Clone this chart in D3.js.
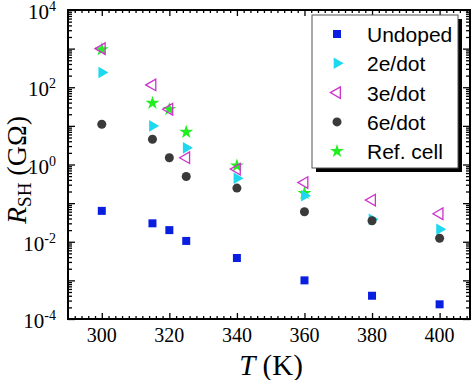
<!DOCTYPE html>
<html>
<head>
<meta charset="utf-8">
<script src="https://cdn.jsdelivr.net/npm/d3@7"></script>
<style>
  body { margin: 0; background: #fff; }
  svg { display: block; }
</style>
</head>
<body>
<div id="chart"></div>
<script>
// Data (temperature in K, R_SH in GOhm)
const undopedT = [300, 315, 320, 325, 340, 360, 380, 400]
const undopedR = [0.063, 0.030, 0.020, 0.0105, 0.0038, 0.0010, 0.0004, 0.00024]

const e2T = [300, 315, 325, 340, 360, 380, 400]
const e2R = [240, 10, 2.7, 0.44, 0.155, 0.038, 0.021]

const e3T = [300, 315, 320, 325, 340, 360, 380, 400]
const e3R = [1000, 115, 27, 1.5, 0.76, 0.34, 0.12, 0.053]

const e6T = [300, 315, 320, 325, 340, 360, 380, 400]
const e6R = [11, 4.5, 1.5, 0.49, 0.245, 0.06, 0.035, 0.0123]

const refT = [300, 315, 320, 325, 340, 360]
const refR = [950, 39, 27, 6.9, 0.93, 0.18]

const xTicks = [300, 320, 340, 360, 380, 400]
const yTickExp = [-4, -2, 0, 2, 4]

let dimensions = {
  width: 474,
  height: 380,
  left: 68,
  right: 470,
  top: 10,
  bottom: 319
}

const svg = d3.select('#chart')
  .append('svg')
  .attr('width', dimensions.width)
  .attr('height', dimensions.height)

const serif = '"Liberation Serif", "Times New Roman", serif'
const sans = '"Liberation Sans", Arial, sans-serif'

// Scales
const xScale = d3.scaleLinear()
  .domain([290, 409])
  .range([dimensions.left, dimensions.right])

const yScale = d3.scaleLog()
  .domain([1e-4, 1e4])
  .range([dimensions.bottom, dimensions.top])

// tick values
const xMinor = d3.range(292, 409, 2).filter(v => v % 20 !== 0)
const yMajor = d3.range(-4, 5).map(e => Math.pow(10, e))
const yMinor = []
for (let e = -4; e < 4; e++) {
  for (let m = 2; m < 10; m++) yMinor.push(m * Math.pow(10, e))
}

function tickAxis(axisFn, scale, values, size, transform) {
  const g = svg.append('g')
    .attr('transform', transform)
    .call(axisFn(scale).tickValues(values).tickSize(size).tickFormat(''))
  g.select('.domain').remove()
  g.selectAll('line').attr('stroke', '#000').attr('stroke-width', 1.3)
}

// inward ticks on all four sides
tickAxis(d3.axisBottom, xScale, xTicks, -6, `translate(0,${dimensions.bottom})`)
tickAxis(d3.axisBottom, xScale, xMinor, -3, `translate(0,${dimensions.bottom})`)
tickAxis(d3.axisTop, xScale, xTicks, -6, `translate(0,${dimensions.top})`)
tickAxis(d3.axisTop, xScale, xMinor, -3, `translate(0,${dimensions.top})`)
tickAxis(d3.axisLeft, yScale, yMajor, -7, `translate(${dimensions.left},0)`)
tickAxis(d3.axisLeft, yScale, yMinor, -4, `translate(${dimensions.left},0)`)
tickAxis(d3.axisRight, yScale, yMajor, -7, `translate(${dimensions.right},0)`)
tickAxis(d3.axisRight, yScale, yMinor, -4, `translate(${dimensions.right},0)`)

// frame
svg.append('rect')
  .attr('x', dimensions.left)
  .attr('y', dimensions.top)
  .attr('width', dimensions.right - dimensions.left)
  .attr('height', dimensions.bottom - dimensions.top)
  .attr('fill', 'none')
  .attr('stroke', '#000')
  .attr('stroke-width', 2)

// x tick labels
svg.selectAll('.xlab')
  .data(xTicks)
  .join('text')
  .attr('x', d => xScale(d))
  .attr('y', 342)
  .attr('text-anchor', 'middle')
  .attr('font-family', serif)
  .attr('font-size', '20px')
  .text(d => d)

// y tick labels 10^n
const ylab = svg.selectAll('.ylab')
  .data(yTickExp)
  .join('text')
  .attr('x', 56)
  .attr('y', d => yScale(Math.pow(10, d)) + 9)
  .attr('text-anchor', 'end')
  .attr('font-family', serif)
  .attr('font-size', '21px')
ylab.append('tspan').text('10')
ylab.append('tspan')
  .attr('dy', -8)
  .attr('font-size', '14px')
  .text(d => d)

// x title
const xt = svg.append('text')
  .attr('x', 271)
  .attr('y', 375)
  .attr('text-anchor', 'middle')
  .attr('font-family', serif)
  .attr('font-size', '29px')
xt.append('tspan').attr('font-style', 'italic').text('T')
xt.append('tspan').text(' (K)')

// y title
const yt = svg.append('text')
  .attr('transform', 'translate(26,170) rotate(-90)')
  .attr('text-anchor', 'middle')
  .attr('font-family', serif)
  .attr('font-size', '28px')
yt.append('tspan').attr('font-style', 'italic').text('R')
yt.append('tspan').attr('dy', 5).attr('font-size', '19px').text('SH')
yt.append('tspan').attr('dy', -5).text(' (GΩ)')

// series
const series = [
  { name: 'Ref. cell', t: refT, r: refR, type: d3.symbolStar, size: 60, rot: 0, fill: '#22ee22', stroke: 'none' },
  { name: 'Undoped', t: undopedT, r: undopedR, type: d3.symbolSquare, size: 64, rot: 0, fill: '#0a1ee0', stroke: 'none' },
  { name: '2e/dot', t: e2T, r: e2R, type: d3.symbolTriangle, size: 58, rot: 90, fill: '#1ed8f0', stroke: 'none' },
  { name: '3e/dot', t: e3T, r: e3R, type: d3.symbolTriangle, size: 58, rot: -90, fill: 'none', stroke: '#cc33cc' },
  { name: '6e/dot', t: e6T, r: e6R, type: d3.symbolCircle, size: 64, rot: 0, fill: '#3a3a3a', stroke: 'none' }
]

series.forEach(s => {
  const sym = d3.symbol().type(s.type).size(s.size)
  svg.append('g')
    .selectAll('path')
    .data(s.t.map((t, i) => ({ t: t, r: s.r[i] })))
    .join('path')
    .attr('d', sym)
    .attr('transform', d => `translate(${xScale(d.t)},${yScale(d.r)}) rotate(${s.rot})`)
    .attr('fill', s.fill)
    .attr('stroke', s.stroke)
    .attr('stroke-width', 1.3)
})

// legend
const legend = { x: 312, y: 15, w: 146, h: 153 }
svg.append('rect')
  .attr('x', legend.x + 4)
  .attr('y', legend.y + 4)
  .attr('width', legend.w)
  .attr('height', legend.h)
  .attr('fill', '#000')
svg.append('rect')
  .attr('x', legend.x)
  .attr('y', legend.y)
  .attr('width', legend.w)
  .attr('height', legend.h)
  .attr('fill', '#fff')
  .attr('stroke', '#555')
  .attr('stroke-width', 1)

const legendOrder = ['Undoped', '2e/dot', '3e/dot', '6e/dot', 'Ref. cell']
legendOrder.forEach((name, i) => {
  const s = series.find(d => d.name === name)
  const cy = 34 + i * 29.3
  svg.append('path')
    .attr('d', d3.symbol().type(s.type).size(s.size)())
    .attr('transform', `translate(337,${cy}) rotate(${s.rot})`)
    .attr('fill', s.fill)
    .attr('stroke', s.stroke)
    .attr('stroke-width', 1.3)
  svg.append('text')
    .attr('x', 367)
    .attr('y', cy + 8)
    .attr('font-family', sans)
    .attr('font-size', '21px')
    .text(name)
})
</script>
</body>
</html>
